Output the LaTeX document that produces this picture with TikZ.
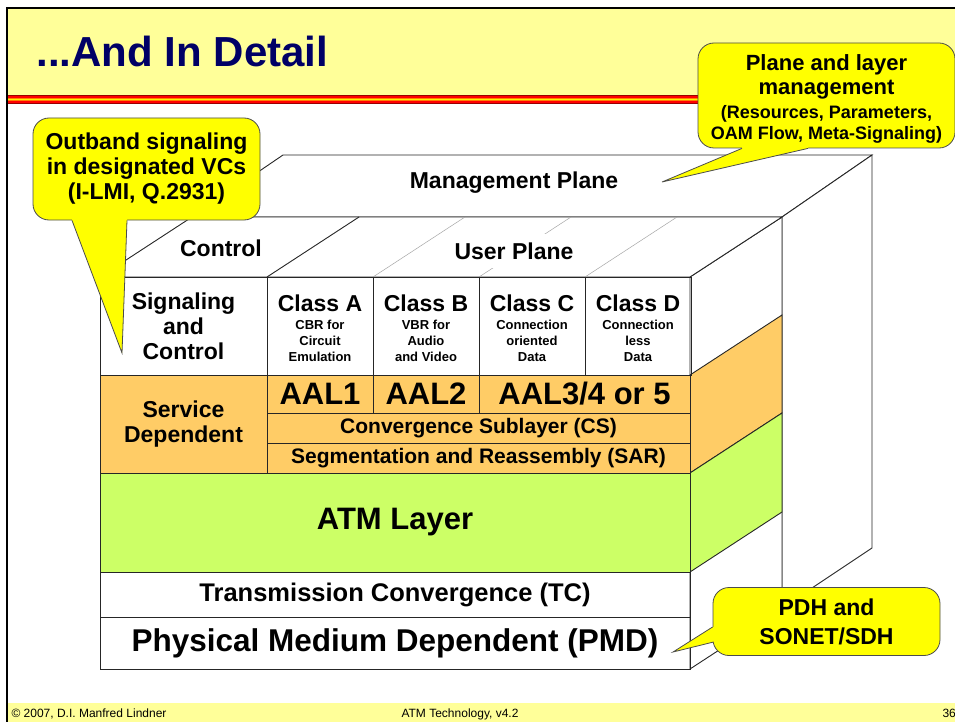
\documentclass[tikz,border=0pt]{standalone}
\usepackage{fontspec}
\setmainfont{Liberation Sans}
\usetikzlibrary{positioning}

\definecolor{titlebg}{HTML}{FFFF99}
\definecolor{titleblue}{HTML}{000066}
\definecolor{aalorange}{HTML}{FFCC66}
\definecolor{atmgreen}{HTML}{CCFF66}
\definecolor{noteyellow}{HTML}{FFFF00}

\newcommand{\pxfont}[2]{\fontsize{#1}{#2}\selectfont}

\tikzset{
  layer/.style={draw=black!85, line width=.9pt, inner sep=0pt, align=center},
  face/.style={draw=black!85, line width=.9pt, fill=white},
  edge line/.style={draw=black!85, line width=.9pt},
  hint/.style={draw=black!35, line width=.5pt},
  note/.style={draw=black!70, line width=.8pt, fill=noteyellow,
    rounded corners=16pt, inner sep=0pt, align=center},
  notetip/.style={draw=black!70, line width=.8pt},
  big/.style={font=\bfseries\pxfont{23}{25}, align=center},
  footer/.style={anchor=base west, font=\pxfont{12}{14}},
}

\begin{document}
\begin{tikzpicture}[x=1pt, y=-1pt]
\useasboundingbox (0,0) rectangle (955,722);

% slide frame, title and footer
\fill[titlebg] (8,9) rectangle (955,95);
\foreach \c [count=\i] in {red!60!black, red, orange, yellow, orange, red, red!60!black}
  \fill[\c] (8,{93.7+1.3*\i}) rectangle (955,{95+1.3*\i});
\fill[titlebg] (8,703) rectangle (955,722);
\draw[line width=2pt] (7,722) -- (7,8) -- (955,8);
\node[anchor=base west, text=titleblue, font=\bfseries\pxfont{42}{44}] (title) at (33,67) {...And In Detail};
\node[footer] (copyright) at (8,717) {© 2007, D.I. Manfred Lindner};
\node[footer] (course) at (398,717) {ATM Technology, v4.2};
\node[footer] (page) at (939,717) {36};

% management plane (back slab)
\draw[face] (192,217) -- (283,155) -- (872,155) -- (782,217) -- cycle;
\draw[face] (782,217) -- (872,155) -- (872,548) -- (782,608) -- cycle;
\node[big] (mgmt) at (514,183) {Management Plane};

% side and top faces of the layer block
\draw[face] (690,277) -- (782,217) -- (782,609) -- (690,669) -- cycle;
\draw[face, fill=aalorange] (690,375) -- (782,315) -- (782,413) -- (690,473) -- cycle;
\draw[face, fill=atmgreen] (690,473) -- (782,413) -- (782,512) -- (690,572) -- cycle;
\draw[face] (100,277) -- (192,217) -- (782,217) -- (690,277) -- cycle;
\foreach \x in {373,479,585}
  \draw[hint] (\x,277) -- ++(92,-60);
\draw[edge line] (267,277) -- ++(92,-60);
\node[big] (ctrl) at (221,248) {Control};
\node[big, fill=white, inner xsep=3pt, inner ysep=9pt] (user) at (514,251) {User Plane};

% front face: planes
\node[layer, big, minimum width=167, minimum height=98] (sig) at (183.5,326) {Signaling\\and\\Control};
\foreach \n/\x/\a/\b/\c in {A/320/CBR for/Circuit/Emulation, B/426/VBR for/Audio/and Video,
    C/532/Connection/oriented/Data, D/638/Connection/less/Data}{
  \node[layer, minimum width=106, minimum height=98] (class\n) at (\x,326) {};
  \node[big] (head\n) at (\x,303) {Class \n};
  \node[align=center, font=\bfseries\pxfont{13}{16}] (note\n) at (\x,341) {\a\\\b\\\c};
}

% front face: AAL
\node[layer, big, fill=aalorange, minimum width=167, minimum height=98] (sdep) at (183.5,424) {Service\\Dependent};
\node[layer, fill=aalorange, minimum width=106, minimum height=38, font=\bfseries\pxfont{31}{33}] (aal1) at (320,394) {AAL1};
\node[layer, fill=aalorange, minimum width=106, minimum height=38, font=\bfseries\pxfont{31}{33}] (aal2) at (426,394) {AAL2};
\node[layer, fill=aalorange, minimum width=211, minimum height=38, font=\bfseries\pxfont{31}{33}] (aal3) at (584.5,394) {AAL3/4 or 5};
\node[layer, fill=aalorange, minimum width=423, minimum height=30, font=\bfseries\pxfont{21}{23}] (cs) at (478.5,428) {Convergence Sublayer (CS)};
\node[layer, fill=aalorange, minimum width=423, minimum height=30, font=\bfseries\pxfont{21}{23}] (sar) at (478.5,458) {Segmentation and Reassembly (SAR)};

% front face: ATM and physical layer
\node[layer, fill=atmgreen, minimum width=590, minimum height=99, font=\bfseries\pxfont{31}{33}] (atm) at (395,522.5) {ATM Layer};
\node[layer, minimum width=590, minimum height=45, font=\bfseries\pxfont{25.5}{27}] (tc) at (395,594.5) {Transmission Convergence (TC)};
\node[layer, minimum width=590, minimum height=52, font=\bfseries\pxfont{31.5}{33}] (pmd) at (395,643) {Physical Medium Dependent (PMD)};

% callouts
\node[note, big, minimum width=227, minimum height=102] (outband) at (146.5,169) {Outband signaling\\in designated VCs\\(I-LMI, Q.2931)};
\coordinate (outtip) at (122,353);
\fill[noteyellow] ([xshift=-74.5pt]outband.south) -- (outtip) -- ([xshift=-19.5pt]outband.south)
  -- ([xshift=-19.5pt, yshift=4pt]outband.south) -- ([xshift=-74.5pt, yshift=4pt]outband.south) -- cycle;
\draw[notetip] ([xshift=-74.5pt]outband.south) -- (outtip) -- ([xshift=-19.5pt]outband.south);

\node[note, minimum width=257, minimum height=105] (plane) at (826.5,95.5) {};
\node[align=center, font=\bfseries\pxfont{22}{24}] (planehead) at (826.5,77) {Plane and layer\\management};
\node[align=center, font=\bfseries\pxfont{18}{21}] (planenote) at (826.5,124.5) {(Resources, Parameters,\\OAM Flow, Meta-Signaling)};
\coordinate (planetip) at (662,182);
\fill[noteyellow] ([xshift=-84.5pt]plane.south) -- (planetip) -- ([xshift=-18.5pt]plane.south)
  -- ([xshift=-18.5pt, yshift=4pt]plane.south) -- ([xshift=-84.5pt, yshift=4pt]plane.south) -- cycle;
\draw[notetip] ([xshift=-84.5pt]plane.south) -- (planetip) -- ([xshift=-18.5pt]plane.south);

\node[note, big, minimum width=227, minimum height=68, font=\bfseries\pxfont{23}{29}] (pdh) at (826.5,621.5) {PDH and\\SONET/SDH};
\coordinate (pdhtip) at (673,652);
\fill[noteyellow] ([yshift=-5.5pt]pdh.west) -- (pdhtip) -- ([xshift=1pt, yshift=-20.5pt]pdh.west)
  -- ([xshift=5pt, yshift=-20.5pt]pdh.west) -- ([xshift=4pt, yshift=-5.5pt]pdh.west) -- cycle;
\draw[notetip] ([yshift=-5.5pt]pdh.west) -- (pdhtip) -- ([xshift=1pt, yshift=-20.5pt]pdh.west);
\end{tikzpicture}
\end{document}
